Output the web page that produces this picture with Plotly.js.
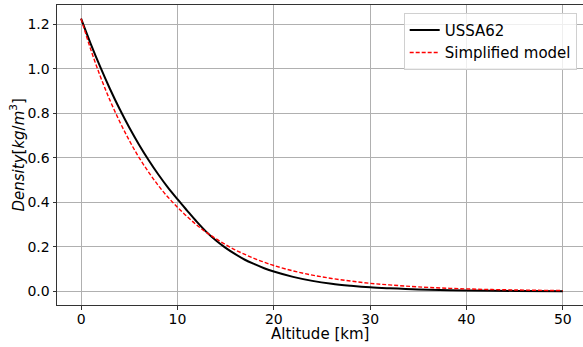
<!DOCTYPE html>
<html>
<head>
<meta charset="utf-8">
<script src="https://cdn.plot.ly/plotly-3.0.1.min.js"></script>
<style>html,body{margin:0;padding:0;background:#fff;}#chart{width:583px;height:347px;}</style>
</head>
<body>
<div id="chart"></div>
<script>
// Altitude [km]
const altitude = [0,1,2,3,4,5,6,7,8,9,10,11,12,13,14,15,16,17,18,19,20,22,24,26,28,30,32,35,40,45,50];
// USSA62 density [kg/m^3]
const ussa62 = [1.225,1.112,1.007,0.909,0.819,0.736,0.660,0.590,0.526,0.467,0.414,0.363,0.313,0.267,0.228,0.195,0.167,0.142,0.122,0.104,0.089,0.065,0.047,0.034,0.025,0.018,0.0136,0.0085,0.0040,0.0020,0.0010];
// Simplified model density [kg/m^3]
const simplified = [1.225,1.087,0.965,0.858,0.763,0.678,0.602,0.536,0.476,0.424,0.378,0.336,0.298,0.265,0.236,0.210,0.186,0.166,0.147,0.131,0.116,0.092,0.073,0.058,0.046,0.036,0.029,0.020,0.011,0.0062,0.0034];
const xTitle = 'Altitude [km]';
const yTitle = '<i>Density</i>[<i>kg</i>/<i>m</i><sup>3</sup>]';

const font = {family: 'DejaVu Sans, sans-serif', size: 15, color: '#000'};
const tickFont = {family: 'DejaVu Sans, sans-serif', size: 14, color: '#000'};

const traces = [
  {x: altitude, y: ussa62, name: 'USSA62', mode: 'lines',
   line: {color: '#000000', width: 2, shape: 'spline'}},
  {x: altitude, y: simplified, name: 'Simplified model', mode: 'lines',
   line: {color: '#ff0000', width: 1.4, dash: '4px,2px', shape: 'spline'}}
];

const layout = {
  width: 583, height: 347,
  margin: {l: 57, r: 0, t: 5, b: 42},
  paper_bgcolor: '#fff', plot_bgcolor: '#fff',
  font: font,
  showlegend: true,
  legend: {x: 0.988, y: 0.974, xanchor: 'right', yanchor: 'top',
    bgcolor: 'rgba(255,255,255,0.8)', bordercolor: '#d0d0d0', borderwidth: 1,
    font: font, tracegroupgap: 0},
  xaxis: {
    range: [-2.5, 52.09], tickvals: [0,10,20,30,40,50],
    showgrid: true, gridcolor: '#b0b0b0', gridwidth: 1,
    zeroline: false, showline: true, linecolor: '#333', linewidth: 1, mirror: true,
    ticks: 'outside', ticklen: 3.5, tickcolor: '#333', ticklabelstandoff: -2,
    tickfont: tickFont
  },
  yaxis: {
    range: [-0.0613, 1.2863], tickvals: [0,0.2,0.4,0.6,0.8,1.0,1.2], ticktext: ['0.0','0.2','0.4','0.6','0.8','1.0','1.2'],
    showgrid: true, gridcolor: '#b0b0b0', gridwidth: 1,
    zeroline: false, showline: true, linecolor: '#333', linewidth: 1, mirror: false,
    ticks: 'outside', ticklen: 3.5, tickcolor: '#333',
    tickfont: tickFont
  },
  annotations: [
    {text: xTitle, xref: 'paper', yref: 'paper', x: 0.5, y: -0.097,
     xanchor: 'center', yanchor: 'middle', showarrow: false, font: font},
    {text: yTitle, xref: 'paper', yref: 'paper', x: -0.0751, y: 0.5, textangle: -90,
     xanchor: 'center', yanchor: 'middle', showarrow: false, font: font}
  ]
};

Plotly.newPlot('chart', traces, layout, {displayModeBar: false, staticPlot: true});
</script>
</body>
</html>
